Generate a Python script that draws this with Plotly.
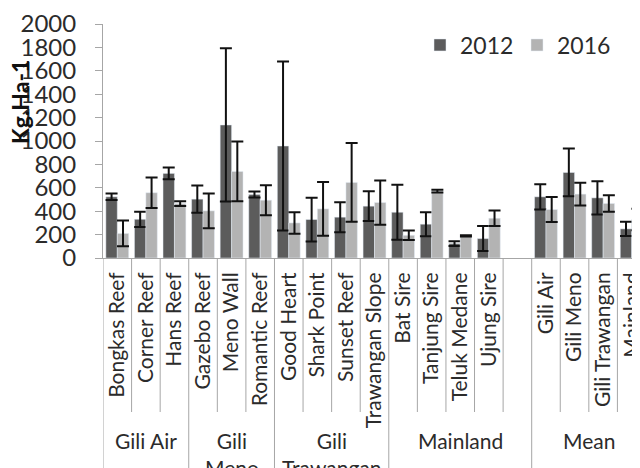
import plotly.graph_objects as go

# ---- data ----
sites = ["Bongkas Reef", "Corner Reef", "Hans Reef",
         "Gazebo Reef", "Meno Wall", "Romantic Reef",
         "Good Heart", "Shark Point", "Sunset Reef", "Trawangan Slope",
         "Bat Sire", "Tanjung Sire", "Teluk Medane", "Ujung Sire", " ",
         "Gili Air", "Gili Meno", "Gili Trawangan", "Mainland"]
groups = ["Gili Air", "Gili<br>Meno", "Gili<br>Trawangan", "Mainland", "Mean"]
group_sizes = [3, 3, 4, 5, 4]

v2012 = [523, 331, 723, 503, 1137, 543, 957, 329, 349, 443,
         391, 289, 123, 166, None, 523, 731, 514, 249]
e2012 = [28, 65, 50, 117, 655, 25, 723, 187, 128, 127,
         236, 103, 20, 107, None, 108, 204, 143, 61]
v2016 = [210, 558, 465, 403, 740, 494, 300, 420, 646, 474,
         194, 571, 189, 340, None, 414, 546, 466, 329]
e2016 = [110, 130, 20, 148, 255, 128, 92, 230, 337, 189,
         40, 12, 5, 67, None, 107, 97, 71, 91]

FONT = "Lato"
GRAY = "#a6a6a6"
TXT = "#2b2b2b"

# page body has an 8px margin: the figure is drawn from (8, 8)
OFF = 8
W, H = 640 - OFF, 468 - OFF
L, T, B = 103 - OFF, 24 - OFF, 210
PH = H - T - B  # plot height in px
PW = W - L


def px_to_paper_y(y):
    return (258 - y) / PH


def px_to_paper_x(x):
    return (x - 103) / PW


fig = go.Figure()
fig.add_trace(go.Bar(
    name="2012", x=sites, y=v2012, marker_color="#5c5c5c",
    error_y=dict(type="data", array=e2012, color="#111111", thickness=2, width=6)))
fig.add_trace(go.Bar(
    name="2016", x=sites, y=v2016, marker_color="#b3b3b3",
    error_y=dict(type="data", array=e2016, color="#111111", thickness=2, width=6)))

# dividers below the axis
shapes = []
n = len(sites)
xmax = 18.29
group_bounds = [-0.5]
acc = -0.5
for s in group_sizes:
    acc += s
    group_bounds.append(acc)
for k in range(n + 1):
    b = k - 0.5
    if b > xmax:
        continue
    is_group = any(abs(b - g) < 1e-9 for g in group_bounds)
    shapes.append(dict(type="line", xref="x", yref="paper", x0=b, x1=b,
                       y0=0, y1=px_to_paper_y(470) if is_group else px_to_paper_y(412),
                       line=dict(color=GRAY, width=1)))

annotations = []
start = 0
for g, s in zip(groups, group_sizes):
    center = start + (s - 1) / 2
    annotations.append(dict(x=center, y=px_to_paper_y(426), xref="x", yref="paper",
                            text=g, showarrow=False, xanchor="center", yanchor="top",
                            font=dict(family=FONT, size=21, color=TXT)))
    start += s

annotations.append(dict(x=px_to_paper_x(20), y=px_to_paper_y(102), xref="paper", yref="paper",
                        text="<b>Kg.Ha-1</b>", textangle=-90, showarrow=False,
                        xanchor="center", yanchor="middle",
                        font=dict(family=FONT, size=23, color="#111111")))

fig.update_layout(
    width=W, height=H,
    margin=dict(l=L, r=0, t=T, b=B, pad=0),
    paper_bgcolor="white", plot_bgcolor="white",
    barmode="group", bargap=0.2, bargroupgap=0,
    font=dict(family=FONT, color=TXT),
    showlegend=True,
    legend=dict(orientation="h", x=px_to_paper_x(420), y=px_to_paper_y(45),
                xanchor="left", yanchor="middle",
                font=dict(family=FONT, size=23, color=TXT),
                bgcolor="rgba(0,0,0,0)", entrywidth=52),
    shapes=shapes,
    annotations=annotations,
)
fig.update_xaxes(type="category", categoryarray=sites, categoryorder="array",
                 range=[-0.5, xmax], tickangle=-90, ticks="", ticklen=0,
                 tickfont=dict(family=FONT, size=21, color=TXT),
                 showline=True, linecolor=GRAY, linewidth=1,
                 showgrid=False, zeroline=False, automargin=False,
                 ticklabelstandoff=5)
fig.update_yaxes(range=[0, 2000], dtick=200, tick0=0,
                 ticks="outside", ticklen=7, tickcolor=GRAY,
                 tickfont=dict(family=FONT, size=24, color=TXT),
                 showline=True, linecolor=GRAY, linewidth=1,
                 showgrid=False, zeroline=False, automargin=False,
                 ticklabelstandoff=14)

fig.write_html("out.html")
